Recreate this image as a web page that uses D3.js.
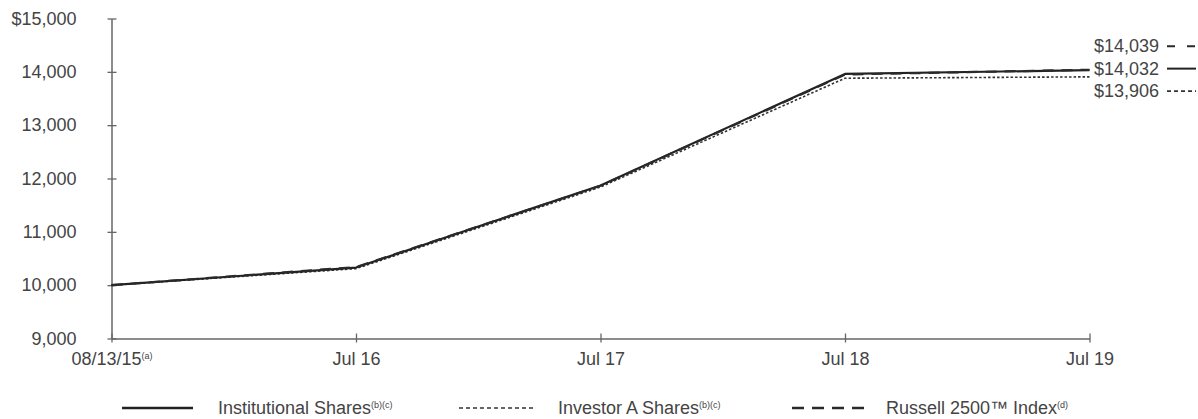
<!DOCTYPE html>
<html>
<head>
<meta charset="utf-8">
<script src="https://cdn.jsdelivr.net/npm/d3@7"></script>
<style>
  html, body { margin: 0; padding: 0; background: #fff; }
  svg { display: block; font-family: "Liberation Sans", Arial, sans-serif; }
</style>
</head>
<body>
<svg id="chart" width="1198" height="419"></svg>
<script>
// ---- data ----
const categories = ["08/13/15", "Jul 16", "Jul 17", "Jul 18", "Jul 19"];
const categorySup = ["(a)", "", "", "", ""];
const institutional = [10000, 10330, 11870, 13960, 14032];
const investorA = [10000, 10310, 11840, 13880, 13906];
const russell = [10000, 10340, 11865, 13950, 14039];
const yTicks = [9000, 10000, 11000, 12000, 13000, 14000, 15000];
const seriesNames = ["Institutional Shares", "Investor A Shares", "Russell 2500\u2122 Index"];
const seriesSups = ["(b)(c)", "(b)(c)", "(d)"];
const endLabels = ["$14,032", "$13,906", "$14,039"];

// ---- layout ----
const svg = d3.select("#chart");
const textColor = "#444";
const axisColor = "#666";
const fontSize = 18;

const x = d3.scalePoint().domain(categories).range([111.5, 1089.5]);
const y = d3.scaleLinear().domain([9000, 15000]).range([338.5, 18.5]);

const styles = [
  { dash: null, width: 2.2, color: "#222" },
  { dash: "2.5,2", width: 1.6, color: "#333" },
  { dash: "11,8", width: 2.2, color: "#2a2a2a" }
];
const series = [institutional, investorA, russell];

// y axis
const yAxis = d3.axisLeft(y).tickValues(yTicks).tickSizeInner(4).tickSizeOuter(0)
  .tickFormat(d => (d === 15000 ? "$" : "") + d3.format(",")(d));
const gy = svg.append("g").attr("transform", "translate(111.5,0)").call(yAxis);
gy.select(".domain").attr("stroke", axisColor).attr("stroke-width", 1.5);
gy.selectAll(".tick line").attr("stroke", axisColor).attr("stroke-width", 1.3).attr("x2", 5).attr("x1", -4);
gy.selectAll(".tick text").attr("x", -35).attr("fill", textColor)
  .style("font-size", fontSize + "px").style("font-family", "Liberation Sans, Arial, sans-serif");

// x axis
const xAxis = d3.axisBottom(x).tickSizeInner(4).tickSizeOuter(0).tickFormat("");
const gx = svg.append("g").attr("transform", "translate(0,338.5)").call(xAxis);
gx.select(".domain").attr("stroke", axisColor).attr("stroke-width", 1.5);
gx.selectAll(".tick line").attr("stroke", axisColor).attr("stroke-width", 1.3).attr("y1", -5).attr("y2", 4);
gx.selectAll(".tick").each(function(d, i) {
  const t = d3.select(this).append("text")
    .attr("y", 26).attr("fill", textColor)
    .attr("text-anchor", "middle")
    .style("font-size", fontSize + "px");
  t.append("tspan").text(d);
  if (categorySup[i]) {
    t.append("tspan").text(categorySup[i]).attr("dy", -6).style("font-size", "9px");
  }
});

// lines
const line = d3.line().x((d, i) => x(categories[i])).y(d => y(d));
[1, 0, 2].forEach(k => {
  svg.append("path")
    .datum(series[k])
    .attr("d", line)
    .attr("fill", "none")
    .attr("stroke", styles[k].color)
    .attr("stroke-width", styles[k].width)
    .attr("stroke-dasharray", styles[k].dash)
    .attr("stroke-linejoin", "round");
});

// end labels (stacked around the middle value)
const lastVals = series.map(s => s[s.length - 1]);
const order = [2, 0, 1]; // top to bottom: Russell, Institutional, Investor A
const midY = y(lastVals[0]) - 1.5;
order.forEach((k, j) => {
  const ly = midY + (j - 1) * 22.5;
  svg.append("text")
    .attr("x", 1094).attr("y", ly).attr("dy", "0.35em")
    .attr("fill", textColor).style("font-size", fontSize + "px")
    .text(endLabels[k]);
  const sampleDash = k === 2 ? "8,12" : (k === 1 ? "4,3" : null);
  svg.append("line")
    .attr("x1", 1167).attr("x2", 1196).attr("y1", ly).attr("y2", ly)
    .attr("stroke", styles[k].color)
    .attr("stroke-width", k === 1 ? 1.6 : 2)
    .attr("stroke-dasharray", sampleDash);
});

// legend
const legendY = 408;
const legendItems = [
  { x1: 122, x2: 193, tx: 218, dash: null, w: 2.4 },
  { x1: 459, x2: 533, tx: 558, dash: "4,3", w: 1.6 },
  { x1: 792, x2: 864, tx: 886, dash: "12,8", w: 2.4 }
];
legendItems.forEach((it, k) => {
  svg.append("line")
    .attr("x1", it.x1).attr("x2", it.x2).attr("y1", legendY).attr("y2", legendY)
    .attr("stroke", styles[k].color).attr("stroke-width", it.w)
    .attr("stroke-dasharray", it.dash);
  const t = svg.append("text").attr("x", it.tx).attr("y", legendY).attr("dy", "0.35em")
    .attr("fill", textColor).style("font-size", fontSize + "px");
  t.append("tspan").text(seriesNames[k]);
  t.append("tspan").text(seriesSups[k]).attr("dy", -6).style("font-size", "9px");
});
</script>
</body>
</html>
